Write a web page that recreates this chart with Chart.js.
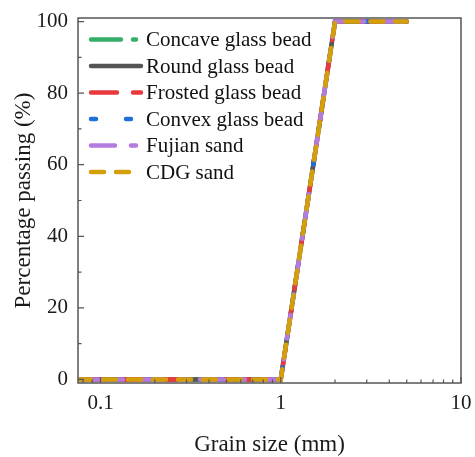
<!DOCTYPE html>
<html>
<head>
<meta charset="utf-8">
<script src="https://cdn.jsdelivr.net/npm/chart.js@4"></script>
<style>
  html, body { margin: 0; padding: 0; background: #fff; }
  #wrap { width: 475px; height: 457px; }
</style>
</head>
<body>
<div id="wrap"><canvas id="myChart" width="475" height="457"></canvas></div>
<script>
// Grain size (mm) and percentage passing for each material
const grainSize = [0.075, 0.1, 0.25, 0.5, 1, 2, 5];
const concaveGlassBead = [0, 0, 0, 0, 0, 100, 100];
const roundGlassBead = [0, 0, 0, 0, 0, 100, 100];
const frostedGlassBead = [0, 0, 0, 0, 0, 100, 100];
const convexGlassBead = [0, 0, 0, 0, 0, 100, 100];
const fujianSand = [0, 0, 0, 0, 0, 100, 100];
const cdgSand = [0, 0, 0, 0, 0, 100, 100];

const xTicks = [0.1, 1, 10];
const yTicks = [0, 20, 40, 60, 80, 100];

const FONT = 'Liberation Serif';

function pts(values) {
  return grainSize.map((x, i) => ({ x: x, y: values[i] }));
}

const series = [
  { label: 'Concave glass bead', data: concaveGlassBead, color: '#36ad68', dash: [30, 12, 3, 12], cap: 'round' },
  { label: 'Round glass bead', data: roundGlassBead, color: '#555555', dash: [], cap: 'round' },
  { label: 'Frosted glass bead', data: frostedGlassBead, color: '#e8393d', dash: [26, 16], cap: 'round' },
  { label: 'Convex glass bead', data: convexGlassBead, color: '#1f6fd8', dash: [5, 30], cap: 'round' },
  { label: 'Fujian sand', data: fujianSand, color: '#b37be0', dash: [24, 16, 5, 16], cap: 'round' },
  { label: 'CDG sand', data: cdgSand, color: '#d4a00a', dash: [13, 12], cap: 'round' }
];

const datasets = series.map((s, i) => ({
  label: s.label,
  data: pts(s.data),
  borderColor: s.color,
  backgroundColor: s.color,
  borderWidth: 4.5,
  borderDash: s.dash,
  borderCapStyle: s.cap,
  pointRadius: 0,
  tension: 0,
  fill: false,
  order: series.length - i
}));

// Frame, inward ticks and legend
const framePlugin = {
  id: 'frame',
  afterDraw(chart) {
    const ctx = chart.ctx;
    const a = chart.chartArea;
    const xs = chart.scales.x;
    const ys = chart.scales.y;
    ctx.save();
    ctx.strokeStyle = '#555';
    ctx.lineWidth = 1.5;
    ctx.strokeRect(a.left, a.top, a.right - a.left, a.bottom - a.top);

    ctx.lineWidth = 1.2;
    ctx.beginPath();
    for (let v = 0; v <= 100; v += 10) {
      const y = ys.getPixelForValue(v);
      const len = v % 20 === 0 ? 6 : 3.5;
      ctx.moveTo(a.left, y);
      ctx.lineTo(a.left + len, y);
    }
    const decades = [0.01, 0.1, 1];
    decades.forEach(d => {
      for (let m = 1; m <= 9; m++) {
        const v = d * m;
        if (v < xs.min || v > xs.max) continue;
        const x = xs.getPixelForValue(v);
        const len = m === 1 ? 6 : 3.5;
        ctx.moveTo(x, a.bottom);
        ctx.lineTo(x, a.bottom - len);
      }
    });
    const x10 = xs.getPixelForValue(10);
    ctx.moveTo(x10, a.bottom);
    ctx.lineTo(x10, a.bottom - 6);
    ctx.stroke();

    // legend
    const lx = 89, lw = 54, ly = 39.5, step = 26.5;
    ctx.font = '21px "' + FONT + '"';
    ctx.textBaseline = 'middle';
    ctx.fillStyle = '#111';
    series.forEach((s, i) => {
      const y = ly + i * step;
      ctx.beginPath();
      ctx.strokeStyle = s.color;
      ctx.lineWidth = 4.5;
      ctx.lineCap = s.cap;
      ctx.setLineDash(s.dash);
      ctx.moveTo(lx + 2, y);
      ctx.lineTo(lx + lw - 2, y);
      ctx.stroke();
      ctx.setLineDash([]);
      ctx.fillText(s.label, 146, y + 1);
    });
    ctx.restore();
  }
};

function noPad(axis) {
  axis.paddingTop = 0;
  axis.paddingBottom = 0;
  axis.paddingLeft = 0;
  axis.paddingRight = 0;
}

const options = {
  responsive: false,
  animation: false,
  layout: { padding: { top: 18, right: 14, left: 0, bottom: 0 } },
  plugins: {
    legend: { display: false },
    tooltip: { enabled: false }
  },
  scales: {
    x: {
      type: 'logarithmic',
      min: 0.075,
      max: 10,
      grid: { display: false, drawTicks: false },
      border: { display: false },
      afterBuildTicks: axis => { axis.ticks = xTicks.map(v => ({ value: v })); },
      afterFit: axis => { axis.height = 74; noPad(axis); },
      ticks: {
        callback: v => String(v),
        color: '#1a1a1a',
        font: { family: FONT, size: 21 },
        padding: 8,
        maxRotation: 0
      },
      title: {
        display: true,
        text: 'Grain size (mm)',
        color: '#1a1a1a',
        font: { family: FONT, size: 23 },
        padding: { top: 0, bottom: -2 }
      }
    },
    y: {
      min: -1,
      max: 101,
      grid: { display: false, drawTicks: false },
      border: { display: false },
      afterBuildTicks: axis => { axis.ticks = yTicks.map(v => ({ value: v })); },
      afterFit: axis => { axis.width = 78; noPad(axis); },
      ticks: {
        color: '#1a1a1a',
        font: { family: FONT, size: 21 },
        padding: 10
      },
      title: {
        display: true,
        text: 'Percentage passing (%)',
        color: '#1a1a1a',
        font: { family: FONT, size: 23 },
        padding: { top: 10, bottom: 0 }
      }
    }
  }
};

const ctx = document.getElementById('myChart').getContext('2d');
const myChart = new Chart(ctx, {
  type: 'line',
  data: { datasets: datasets },
  options: options,
  plugins: [framePlugin]
});
</script>
</body>
</html>
